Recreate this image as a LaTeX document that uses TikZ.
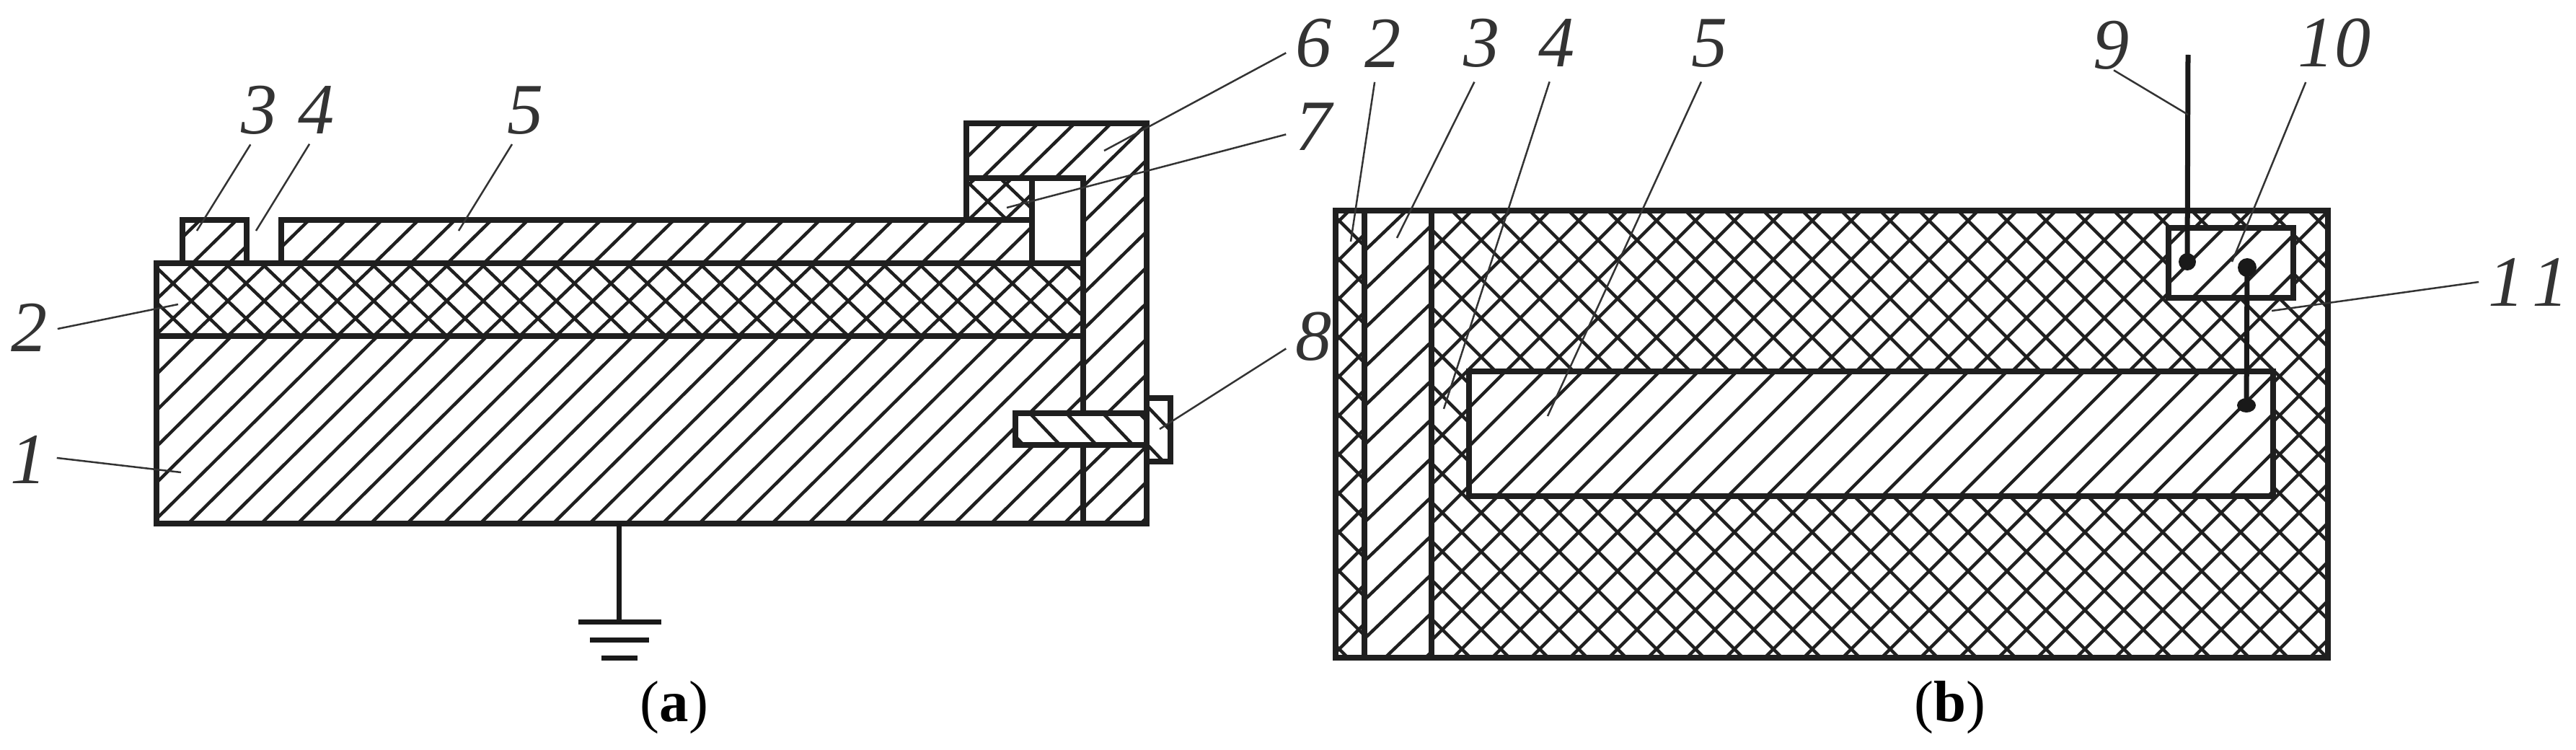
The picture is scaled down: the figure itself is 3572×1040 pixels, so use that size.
\documentclass[tikz,border=0pt]{standalone}
\usepackage{fontspec}
\setmainfont{Liberation Serif}
\tikzset{
    outline/.style = {line width=0.075cm, black!88, line cap=rect},
    hatchline/.style = {line width=0.045cm, black!88},
    leader/.style = {line width=0.025cm, black!80},
    wire/.style = {line width=0.07cm, black!90},
    joint/.style = {fill=black!90, draw=none},
    partnum/.style = {font={\fontsize{28.5}{30}\selectfont\itshape}, black!80, inner sep=0.13cm},
    caption/.style = {font={\fontsize{23}{25}\selectfont}, black, inner sep=0pt}
}
% clip path, point on one line, period, slope, direction
\newcommand{\hatchfill}[6]{
    \begin{scope}
        \clip #1;
        \foreach \k in {-65,...,65}
            \draw[hatchline] ({#2+\k*#4-1800},{#3+#6*1800*#5}) -- ({#2+\k*#4+1800},{#3-#6*1800*#5});
    \end{scope}
}
\newcommand{\crossfill}[5]{
    \hatchfill{#1}{#2}{#3}{#4}{#5}{1}
    \hatchfill{#1}{#2}{#3}{#4}{#5}{-1}
}
\begin{document}
\begin{tikzpicture}[x=0.01cm, y=-0.01cm]
    \useasboundingbox (0,0) rectangle (3572,1040);

    % left picture
    \hatchfill{(217,466) rectangle (1502,726)}{261}{726}{50.6}{0.99}{1}
    \hatchfill{(1340,171) -- (1590,171) -- (1590,726) -- (1502,726) -- (1502,247) -- (1340,247) -- cycle}{1362}{247}{50.6}{0.98}{1}
    \hatchfill{(253,305) rectangle (342,365)}{267}{365}{50.6}{0.98}{1}
    \hatchfill{(390,305) rectangle (1431,365)}{418}{365}{50.6}{0.98}{1}
    \crossfill{(217,365) rectangle (1502,466)}{240}{393}{50.6}{0.96}
    \crossfill{(1340,247) rectangle (1431,305)}{1395}{255}{50.6}{0.96}

    \draw[outline] (217,365) rectangle (1502,466);
    \draw[outline] (217,466) -- (217,726) -- (1590,726) -- (1590,171) -- (1340,171) -- (1340,305);
    \draw[outline] (1502,726) -- (1502,247) -- (1340,247);
    \draw[outline] (1431,247) -- (1431,365);
    \draw[outline] (390,365) -- (390,305) -- (1431,305);
    \draw[outline] (253,365) -- (253,305) -- (342,305) -- (342,365);

    \fill[white] (1408,573) rectangle (1590,617);
    \hatchfill{(1408,573) rectangle (1590,617)}{1428}{573}{50.6}{1.05}{-1}
    \hatchfill{(1590,552) rectangle (1623,640)}{1600}{573}{50.6}{1.05}{-1}
    \draw[outline] (1408,573) rectangle (1590,617);
    \draw[outline] (1590,552) rectangle (1623,640);

    \coordinate (groundtop) at (858,726);
    \coordinate (groundmid) at (858,862);
    \draw[wire] (groundtop) -- (groundmid);
    \draw[wire] (802,862) -- (917,862);
    \draw[wire] (818,887) -- (900,887);
    \draw[wire] (834,912) -- (884,912);

    \node[partnum] (a1) at (40,637) {1};
    \node[partnum] (a2) at (41,454) {2};
    \node[partnum] (a3) at (360,153) {3};
    \node[partnum] (a4) at (439,153) {4};
    \node[partnum] (a5) at (729,153) {5};
    \node[partnum] (a6) at (1822,60) {6};
    \node[partnum] (a7) at (1822,176) {7};
    \node[partnum] (a8) at (1822,467) {8};

    \coordinate (ta1) at (251,655);
    \coordinate (ta2) at (247,422);
    \coordinate (ta3) at (273,320);
    \coordinate (ta4) at (355,320);
    \coordinate (ta5) at (636,320);
    \coordinate (ta6) at (1531,209);
    \coordinate (ta7) at (1396,288);
    \coordinate (ta8) at (1608,595);

    \draw[leader] (a1.3) -- (ta1);
    \draw[leader] (a2.-3) -- (ta2);
    \draw[leader] (a3.-105) -- (ta3);
    \draw[leader] (a4.-102) -- (ta4);
    \draw[leader] (a5.-112) -- (ta5);
    \draw[leader] (a6.199) -- (ta6);
    \draw[leader] (a7.195) -- (ta7);
    \draw[leader] (a8.203) -- (ta8);

    \node[caption] (capa) at (935,981) {(\textbf{a})};

    % right picture
    \crossfill{(1852,292) rectangle (1892,912)}{1857}{360}{54}{1}
    \crossfill{(1985,292) rectangle (3228,912)}{2027}{360}{54}{1}
    \hatchfill{(1892,292) rectangle (1985,912)}{1897}{397}{56}{0.96}{1}

    \fill[white] (2037,515) rectangle (3152,688);
    \hatchfill{(2037,515) rectangle (3152,688)}{2075}{688}{53.5}{1}{1}
    \fill[white] (3007,316) rectangle (3180,413);
    \hatchfill{(3007,316) rectangle (3180,413)}{3040}{413}{53}{1}{1}

    \draw[outline] (1852,292) rectangle (3228,912);
    \draw[outline] (1892,292) -- (1892,912);
    \draw[outline] (1985,292) -- (1985,912);
    \draw[outline] (2037,515) rectangle (3152,688);
    \draw[outline] (3007,316) rectangle (3180,413);

    \coordinate (wiretop) at (3034,76);
    \coordinate (jointa) at (3033,363);
    \coordinate (jointb) at (3116,371);
    \coordinate (jointc) at (3115,562);
    \draw[wire] (wiretop) -- (jointa);
    \draw[wire] (jointb) -- (jointc);
    \fill[joint] (jointa) circle [radius=12];
    \fill[joint] (jointb) circle [radius=13];
    \fill[joint] (jointc) ellipse [x radius=13, y radius=10];

    \node[partnum] (b2) at (1918,60) {2};
    \node[partnum] (b3) at (2055,60) {3};
    \node[partnum] (b4) at (2159,60) {4};
    \node[partnum] (b5) at (2371,60) {5};
    \node[partnum, inner sep=0pt] (b9) at (2928,63) {9};
    \node[partnum] (b10) at (3237,60) {10};
    \node[partnum] (b11) at (3506,391) {1\kern0.1em 1};

    \coordinate (tb2) at (1873,335);
    \coordinate (tb3) at (1937,330);
    \coordinate (tb4) at (2002,567);
    \coordinate (tb5) at (2146,577);
    \coordinate (tb9) at (3034,159);
    \coordinate (tb10) at (3095,363);
    \coordinate (tb11) at (3150,431);

    \draw[leader, shorten <=0.07cm] (b2.-103) -- (tb2);
    \draw[leader, shorten <=0.07cm] (b3.-99) -- (tb3);
    \draw[leader, shorten <=0.07cm] (b4.-100) -- (tb4);
    \draw[leader, shorten <=0.07cm] (b5.-101) -- (tb5);
    \draw[leader] (b9.-85) -- (tb9);
    \draw[leader, shorten <=0.07cm] (b10.-128) -- (tb10);
    \draw[leader] (b11.180) -- (tb11);

    \node[caption] (capb) at (2704,981) {(\textbf{b})};
\end{tikzpicture}
\end{document}
